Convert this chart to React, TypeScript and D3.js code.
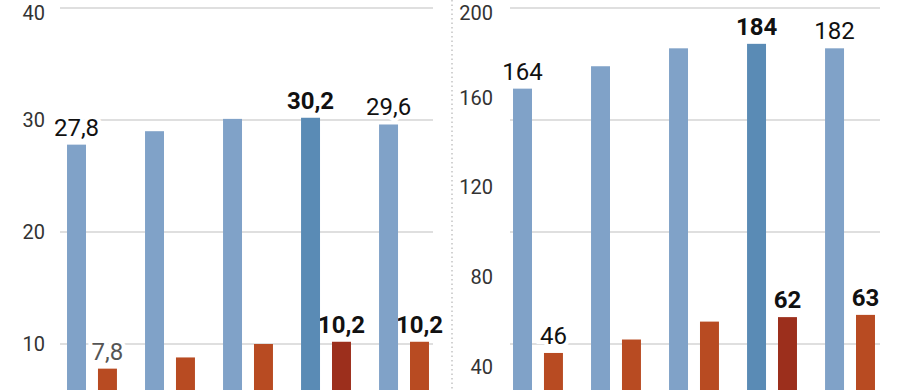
import { useEffect, useRef } from 'react';
import * as d3 from 'd3';

const groups = ['g1', 'g2', 'g3', 'g4', 'g5'];

// left panel
const leftBlue = [27.8, 29.0, 30.1, 30.2, 29.6];
const leftOrange = [7.8, 8.8, 10.0, 10.2, 10.2];
const leftBlueLabels = ['27,8', '', '', '30,2', '29,6'];
const leftOrangeLabels = ['7,8', '', '', '10,2', '10,2'];
const leftTicks = [10, 20, 30, 40];

// right panel
const rightBlue = [164, 174, 182, 184, 182];
const rightOrange = [46, 52, 60, 62, 63];
const rightBlueLabels = ['164', '', '', '184', '182'];
const rightOrangeLabels = ['46', '', '', '62', '63'];
const rightTicks = [40, 80, 120, 160, 200];

// bold flags
const blueBold = [false, false, false, true, false];
const orangeBold = [false, false, false, true, true];

const W = 900;
const H = 390;
const FONT = 'Roboto, "Noto Sans", sans-serif';

const BLUE = '#80a2c8';
const BLUE_HI = '#5a8bb5';
const ORANGE = '#b84b22';
const ORANGE_HI = '#9c2f1c';

export default function App() {
  const svgRef = useRef<SVGSVGElement>(null);

  useEffect(() => {
    if (!svgRef.current) return;
    const svg = d3.select(svgRef.current);
    svg.selectAll('*').remove();

    const yBottom = 456;
    const yTop = 8;
    const yLeft = d3.scaleLinear().domain([0, 40]).range([yBottom, yTop]);
    const yRight = d3.scaleLinear().domain([0, 200]).range([yBottom, yTop]);

    const inner = d3.scaleBand<string>().domain(['blue', 'orange']).paddingInner(0.387);

    // layers: grid, labels (white halo cuts the grid), bars on top
    const gridLayer = svg.append('g');
    const labelLayer = svg.append('g');
    const barLayer = svg.append('g');

    const gridSegments: [number, number][] = [[60, 433], [510, 880]];
    gridSegments.forEach(([a, b]) => {
      gridLayer.append('g')
        .selectAll('line')
        .data(leftTicks)
        .enter()
        .append('line')
        .attr('x1', a)
        .attr('x2', b)
        .attr('y1', d => yLeft(d))
        .attr('y2', d => yLeft(d))
        .attr('stroke', '#d4d4d4')
        .attr('stroke-width', 1.5);
    });

    // dotted separator between panels
    gridLayer.append('line')
      .attr('x1', 452)
      .attr('x2', 452)
      .attr('y1', 0)
      .attr('y2', H)
      .attr('stroke', '#c4c4c4')
      .attr('stroke-width', 1.5)
      .attr('stroke-dasharray', '1.5,3');

    const tickText = (x: number, y: d3.ScaleLinear<number, number>, ticks: number[]) => {
      labelLayer.append('g')
        .selectAll('text')
        .data(ticks)
        .enter()
        .append('text')
        .attr('x', x)
        .attr('y', d => Math.max(y(d), 13))
        .attr('dy', '0.36em')
        .attr('text-anchor', 'end')
        .style('font-family', FONT)
        .style('font-size', '20px')
        .style('fill', '#333')
        .text(d => String(d));
    };
    tickText(45, yLeft, leftTicks);
    tickText(493, yRight, rightTicks);

    const drawPanel = (
      x0: number,
      x1: number,
      y: d3.ScaleLinear<number, number>,
      blue: number[],
      orange: number[],
      blueLabels: string[],
      orangeLabels: string[],
      greyFirstOrange: boolean
    ) => {
      const xs = d3.scaleBand<string>().domain(groups).range([x0, x1]).paddingInner(0.36).paddingOuter(0.09);
      inner.range([0, xs.bandwidth()]);

      const label = (cx: number, v: number, txt: string, bold: boolean, color: string) => {
        if (!txt) return;
        labelLayer.append('text')
          .attr('x', cx)
          .attr('y', y(v) - 9)
          .attr('text-anchor', 'middle')
          .style('font-family', FONT)
          .style('font-size', '24px')
          .style('font-weight', bold ? 700 : 400)
          .style('fill', color)
          .style('paint-order', 'stroke')
          .style('stroke', '#fff')
          .style('stroke-width', 8)
          .text(txt);
      };

      groups.forEach((k, i) => {
        const gx = xs(k) || 0;
        const bx = gx + (inner('blue') || 0);
        const ox = gx + (inner('orange') || 0);
        barLayer.append('rect')
          .attr('x', bx)
          .attr('y', y(blue[i]))
          .attr('width', inner.bandwidth())
          .attr('height', yBottom - y(blue[i]) + 20)
          .attr('fill', i === 3 ? BLUE_HI : BLUE);
        barLayer.append('rect')
          .attr('x', ox)
          .attr('y', y(orange[i]))
          .attr('width', inner.bandwidth())
          .attr('height', yBottom - y(orange[i]) + 20)
          .attr('fill', i === 3 ? ORANGE_HI : ORANGE);

        label(bx + inner.bandwidth() / 2, blue[i], blueLabels[i], blueBold[i], '#111');
        label(
          ox + inner.bandwidth() / 2,
          orange[i],
          orangeLabels[i],
          orangeBold[i],
          greyFirstOrange && i === 0 ? '#555' : '#111'
        );
      });
    };

    drawPanel(60, 436, yLeft, leftBlue, leftOrange, leftBlueLabels, leftOrangeLabels, true);
    drawPanel(506, 882, yRight, rightBlue, rightOrange, rightBlueLabels, rightOrangeLabels, false);
  }, []);

  return (
    <svg
      ref={svgRef}
      width={W}
      height={H}
      style={{ position: 'absolute', left: 0, top: 0, background: '#fff' }}
    />
  );
}
